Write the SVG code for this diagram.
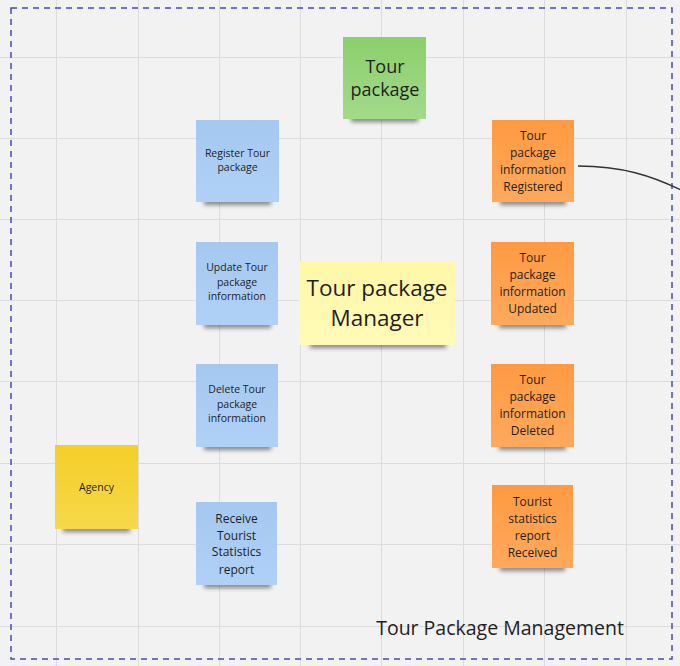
<svg xmlns="http://www.w3.org/2000/svg" width="680" height="666" viewBox="0 0 680 666">
<defs>
<style>
.grid{stroke:#dcdcdc;stroke-width:1}
.t{font-family:"Open Sans","Noto Sans",sans-serif;fill:#1f1f1f;text-anchor:middle;dominant-baseline:central}
.s{font-size:10.5px}
.m{font-size:12px}
.shadow{fill:#2a2a2a;opacity:0.55;filter:url(#blur)}
</style>
<filter id="blur" x="-20%" y="-100%" width="140%" height="300%"><feGaussianBlur stdDeviation="2"/></filter>
<linearGradient id="gBlue" x1="0" y1="0" x2="0" y2="1"><stop offset="0" stop-color="#a5c8f1"/><stop offset="1" stop-color="#b0d1f6"/></linearGradient>
<linearGradient id="gOrange" x1="0" y1="0" x2="0" y2="1"><stop offset="0" stop-color="#ff9a42"/><stop offset="1" stop-color="#ffa95c"/></linearGradient>
<linearGradient id="gGreen" x1="0" y1="0" x2="0" y2="1"><stop offset="0" stop-color="#8bcf6c"/><stop offset="1" stop-color="#a3da8a"/></linearGradient>
<linearGradient id="gYellow" x1="0" y1="0" x2="0" y2="1"><stop offset="0" stop-color="#fff7a8"/><stop offset="1" stop-color="#fffab8"/></linearGradient>
<linearGradient id="gGold" x1="0" y1="0" x2="0" y2="1"><stop offset="0" stop-color="#f4cf28"/><stop offset="1" stop-color="#f6d84a"/></linearGradient>
</defs>
<rect x="0" y="0" width="680" height="666" fill="#f2f2f2"/>
<g id="grid">
<line class="grid" x1="56.5" y1="0" x2="56.5" y2="666"/>
<line class="grid" x1="138.5" y1="0" x2="138.5" y2="666"/>
<line class="grid" x1="219.5" y1="0" x2="219.5" y2="666"/>
<line class="grid" x1="300.5" y1="0" x2="300.5" y2="666"/>
<line class="grid" x1="381.5" y1="0" x2="381.5" y2="666"/>
<line class="grid" x1="463.5" y1="0" x2="463.5" y2="666"/>
<line class="grid" x1="544.5" y1="0" x2="544.5" y2="666"/>
<line class="grid" x1="626.5" y1="0" x2="626.5" y2="666"/>
<line class="grid" x1="0" y1="57.5" x2="680" y2="57.5"/>
<line class="grid" x1="0" y1="138.5" x2="680" y2="138.5"/>
<line class="grid" x1="0" y1="219.5" x2="680" y2="219.5"/>
<line class="grid" x1="0" y1="300.5" x2="680" y2="300.5"/>
<line class="grid" x1="0" y1="381.5" x2="680" y2="381.5"/>
<line class="grid" x1="0" y1="463.5" x2="680" y2="463.5"/>
<line class="grid" x1="0" y1="544.5" x2="680" y2="544.5"/>
<line class="grid" x1="0" y1="626.5" x2="680" y2="626.5"/>
</g>
<g id="frame">
<rect x="11" y="8" width="661" height="651" fill="none" stroke="#4449c4" stroke-width="1.5" stroke-dasharray="6 5"/>
<text class="t" x="500" y="627" style="font-size:19.5px">Tour Package Management</text>
</g>
<g id="connectors">
<path d="M578,166 C622,166 652,176 681,190" fill="none" stroke="#333" stroke-width="1.5"/>
</g>
<g id="tour-package">
<rect class="shadow" x="351" y="116" width="67" height="6"/>
<rect x="343" y="37" width="83" height="82" fill="url(#gGreen)"/>
<text class="t" x="385" y="66" style="font-size:18px">Tour</text>
<text class="t" x="385" y="89" style="font-size:18px">package</text>
</g>
<g id="register">
<rect class="shadow" x="204" y="199" width="67" height="6"/>
<rect x="196" y="120" width="83" height="82" fill="url(#gBlue)"/>
<text class="t s" x="237.5" y="153">Register Tour</text>
<text class="t s" x="237.5" y="167">package</text>
</g>
<g id="update">
<rect class="shadow" x="204" y="322" width="67" height="6"/>
<rect x="196" y="242" width="82" height="83" fill="url(#gBlue)"/>
<text class="t s" x="237" y="267">Update Tour</text>
<text class="t s" x="237" y="282">package</text>
<text class="t s" x="237" y="296">information</text>
</g>
<g id="delete">
<rect class="shadow" x="204" y="444" width="67" height="6"/>
<rect x="196" y="364" width="82" height="83" fill="url(#gBlue)"/>
<text class="t s" x="237" y="389">Delete Tour</text>
<text class="t s" x="237" y="404">package</text>
<text class="t s" x="237" y="418">information</text>
</g>
<g id="receive">
<rect class="shadow" x="204" y="582" width="67" height="6"/>
<rect x="196" y="502" width="81" height="83" fill="url(#gBlue)"/>
<text class="t m" x="236.5" y="518">Receive</text>
<text class="t m" x="236.5" y="535">Tourist</text>
<text class="t m" x="236.5" y="551">Statistics</text>
<text class="t m" x="236.5" y="569">report</text>
</g>
<g id="manager">
<rect class="shadow" x="310" y="342" width="136" height="6"/>
<rect x="299" y="261" width="156" height="84" fill="url(#gYellow)"/>
<text class="t" x="377" y="287" style="font-size:22.5px">Tour package</text>
<text class="t" x="377" y="317" style="font-size:22.5px">Manager</text>
</g>
<g id="agency">
<rect class="shadow" x="63" y="526" width="67" height="6"/>
<rect x="55" y="445" width="83" height="84" fill="url(#gGold)"/>
<text class="t s" x="96.5" y="487">Agency</text>
</g>
<g id="registered">
<rect class="shadow" x="500" y="199" width="66" height="6"/>
<rect x="492" y="120" width="82" height="82" fill="url(#gOrange)"/>
<text class="t m" x="533" y="135">Tour</text>
<text class="t m" x="533" y="152">package</text>
<text class="t m" x="533" y="169">information</text>
<text class="t m" x="533" y="186">Registered</text>
</g>
<g id="updated">
<rect class="shadow" x="499" y="322" width="67" height="6"/>
<rect x="491" y="242" width="83" height="83" fill="url(#gOrange)"/>
<text class="t m" x="532.5" y="257">Tour</text>
<text class="t m" x="532.5" y="274">package</text>
<text class="t m" x="532.5" y="291">information</text>
<text class="t m" x="532.5" y="308">Updated</text>
</g>
<g id="deleted">
<rect class="shadow" x="499" y="444" width="67" height="6"/>
<rect x="491" y="364" width="83" height="83" fill="url(#gOrange)"/>
<text class="t m" x="532.5" y="379">Tour</text>
<text class="t m" x="532.5" y="396">package</text>
<text class="t m" x="532.5" y="413">information</text>
<text class="t m" x="532.5" y="430">Deleted</text>
</g>
<g id="tourist-report">
<rect class="shadow" x="500" y="565" width="65" height="6"/>
<rect x="492" y="485" width="81" height="83" fill="url(#gOrange)"/>
<text class="t m" x="532.5" y="501">Tourist</text>
<text class="t m" x="532.5" y="518">statistics</text>
<text class="t m" x="532.5" y="535">report</text>
<text class="t m" x="532.5" y="552">Received</text>
</g>
</svg>
